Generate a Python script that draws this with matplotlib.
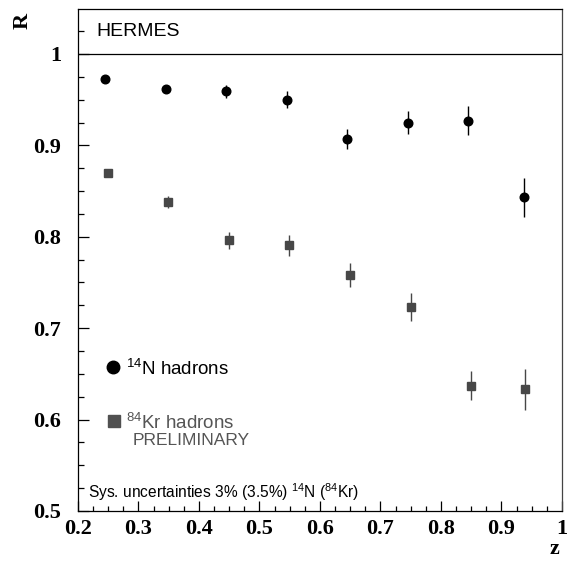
import matplotlib
matplotlib.use("Agg")
import matplotlib.pyplot as plt
from matplotlib.ticker import MultipleLocator

plt.rcParams['mathtext.fontset'] = 'custom'
plt.rcParams['mathtext.rm'] = 'Liberation Sans'
plt.rcParams['mathtext.default'] = 'regular'

# Data
z_N = [0.245, 0.345, 0.445, 0.545, 0.645, 0.745, 0.845, 0.937]
R_N = [0.973, 0.962, 0.959, 0.950, 0.907, 0.925, 0.927, 0.843]
err_N = [0.003, 0.004, 0.007, 0.009, 0.011, 0.013, 0.016, 0.021]

z_Kr = [0.249, 0.349, 0.449, 0.549, 0.650, 0.750, 0.850, 0.939]
R_Kr = [0.870, 0.838, 0.796, 0.791, 0.758, 0.723, 0.637, 0.633]
err_Kr = [0.004, 0.007, 0.009, 0.0115, 0.013, 0.015, 0.016, 0.022]

x_ticks = [0.2, 0.3, 0.4, 0.5, 0.6, 0.7, 0.8, 0.9, 1.0]
x_ticklabels = ['0.2', '0.3', '0.4', '0.5', '0.6', '0.7', '0.8', '0.9', '1']
y_ticks = [0.5, 0.6, 0.7, 0.8, 0.9, 1.0]
y_ticklabels = ['0.5', '0.6', '0.7', '0.8', '0.9', '1']

fig = plt.figure(figsize=(5.73, 5.64), dpi=100)
ax = fig.add_axes([0.1361, 0.094, 0.8447, 0.890])

kr_color = '#474747'
ax.errorbar(z_N, R_N, yerr=err_N, fmt='o', color='black', ms=6.2,
            elinewidth=1.0, capsize=0, zorder=3)
ax.errorbar(z_Kr, R_Kr, yerr=err_Kr, fmt='s', color=kr_color, ms=6.2,
            elinewidth=1.0, capsize=0, zorder=3)

ax.axhline(1.0, color='black', lw=0.9)

ax.set_xlim(0.2, 1.0)
ax.set_ylim(0.5, 1.0492)
ax.set_xticks(x_ticks)
ax.set_xticklabels(x_ticklabels)
ax.set_yticks(y_ticks)
ax.set_yticklabels(y_ticklabels)
ax.xaxis.set_minor_locator(MultipleLocator(0.025))
ax.yaxis.set_minor_locator(MultipleLocator(0.025))
ax.tick_params(axis='both', which='both', direction='in', top=False, right=False)
ax.tick_params(axis='x', which='major', length=7, width=0.9, pad=6)
ax.tick_params(axis='x', which='minor', length=3.5, width=0.9)
ax.tick_params(axis='y', which='major', length=8, width=0.9, pad=12)
ax.tick_params(axis='y', which='minor', length=4, width=0.9)
for lbl in ax.get_xticklabels() + ax.get_yticklabels():
    lbl.set_fontfamily('Liberation Serif')
    lbl.set_fontweight('bold')
    lbl.set_fontsize(16)
for sp in ax.spines.values():
    sp.set_linewidth(0.9)
ax.spines['right'].set_color('#444444')

fig.text(23 / 573, 1 - 21 / 564, 'R', rotation=90, ha='center', va='center',
         fontfamily='Liberation Serif', fontweight='bold', fontsize=16)
fig.text(554 / 573, 1 - 549 / 564, 'z', ha='center', va='center',
         fontfamily='Liberation Serif', fontweight='bold', fontsize=16)

sans = 'Liberation Sans'
ax.text(0.039, 1.0245, 'HERMES', transform=ax.get_yaxis_transform(),
        ha='left', va='center', fontfamily=sans, fontsize=14)

# Legend (manual)
ax.plot([0.2578], [0.658], 'o', color='black', ms=9)
ax.text(0.2790, 0.6555, '$^{14}$N hadrons', ha='left', va='center',
        fontfamily=sans, fontsize=13.5, color='black')
ax.plot([0.2595], [0.5985], 's', color='#505050', ms=9)
ax.text(0.2790, 0.5965, '$^{84}$Kr hadrons', ha='left', va='center',
        fontfamily=sans, fontsize=13.5, color='#555555')
ax.text(0.2905, 0.5775, 'PRELIMINARY', ha='left', va='center',
        fontfamily=sans, fontsize=12.5, color='#555555')

ax.text(0.2165, 0.521, 'Sys. uncertainties 3% (3.5%) $^{14}$N ($^{84}$Kr)',
        ha='left', va='center', fontfamily=sans, fontsize=11.2, color='black')

fig.savefig('out.png', dpi=100)
